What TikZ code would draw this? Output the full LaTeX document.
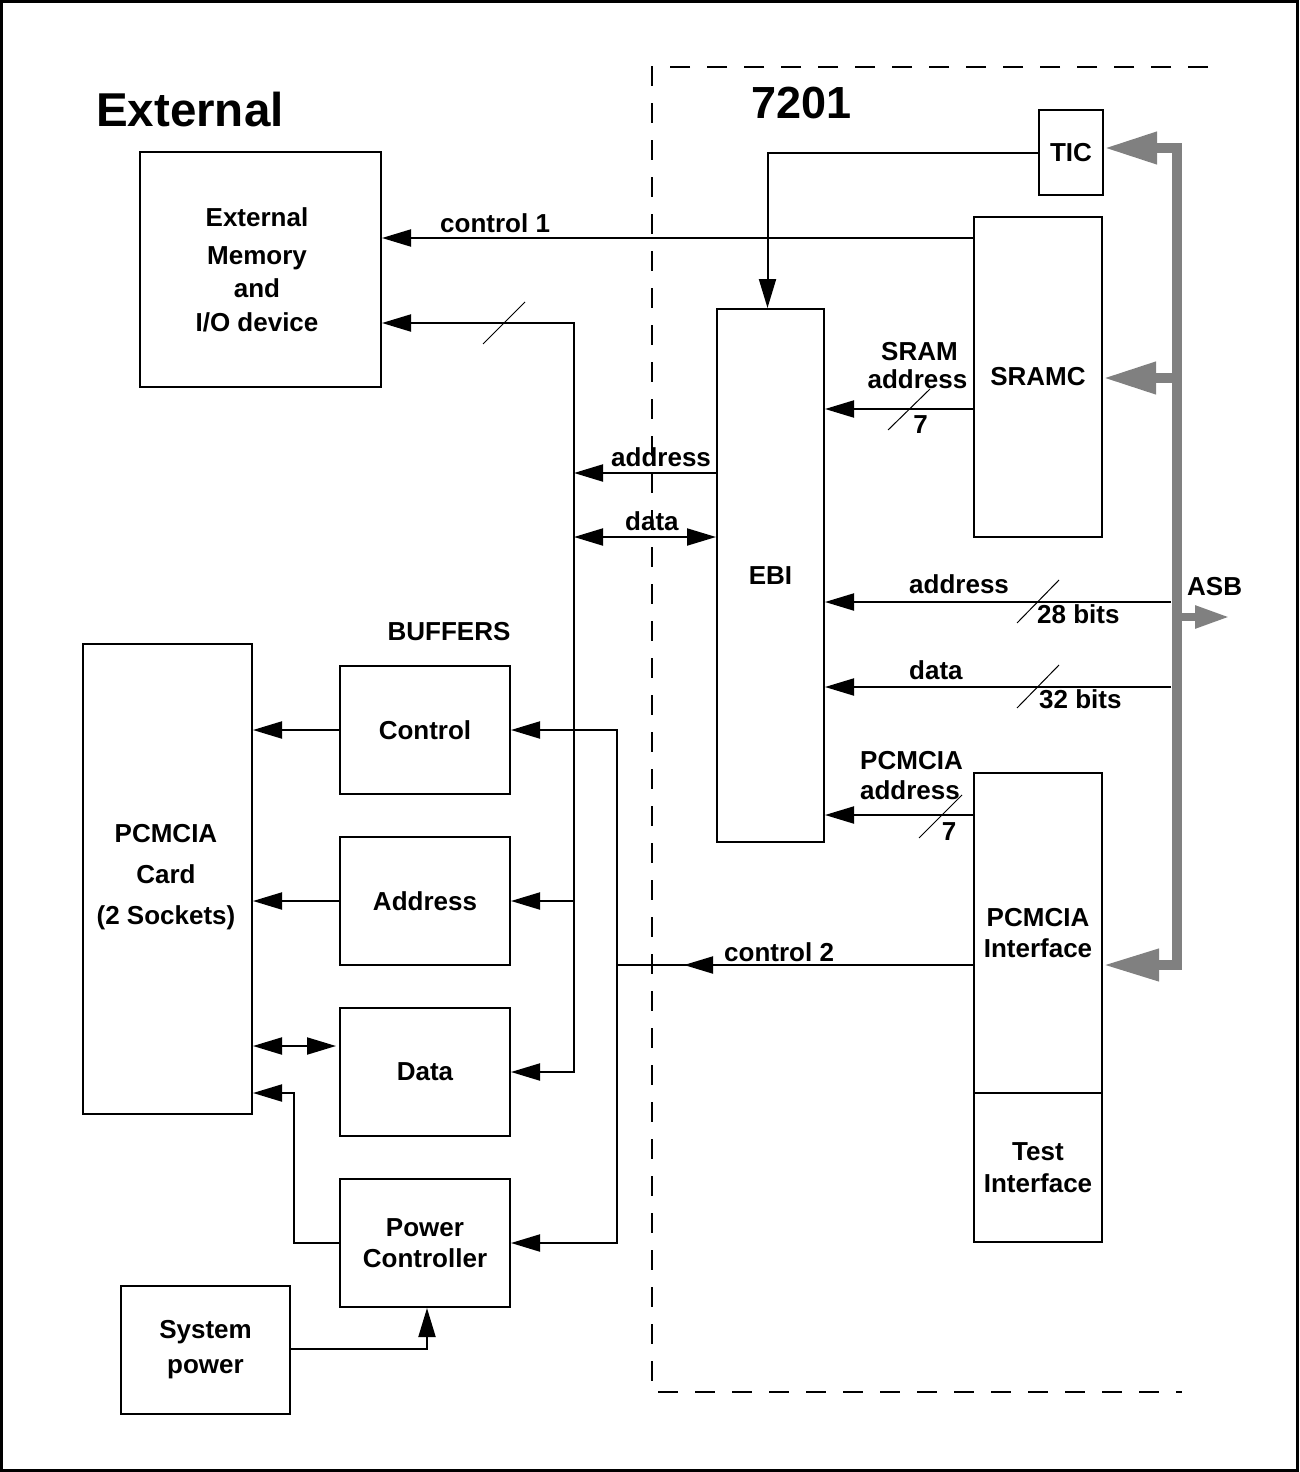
\documentclass[tikz,border=0pt]{standalone}
\usepackage{fontspec}
\setmainfont{Liberation Sans}
\usetikzlibrary{arrows.meta}
\newcommand{\mylbl}{\fontsize{26pt}{31pt}\selectfont\bfseries}
\begin{document}
\begin{tikzpicture}[x=1pt,y=-1pt,
  box/.style={draw, line width=2pt, rectangle, inner sep=0pt, align=center, font=\mylbl},
  lbl/.style={inner sep=0pt, font=\mylbl},
  conn/.style={line width=2pt},
  arr/.style={line width=2pt, -{Triangle[length=29pt,width=17pt]}},
  dbl/.style={line width=2pt, {Triangle[length=29pt,width=17pt]}-{Triangle[length=29pt,width=17pt]}},
  slash/.style={line width=1pt},
  bus/.style={draw=gray, line width=10pt, line join=miter}]
\useasboundingbox (0,0) rectangle (1299,1472);
% outer frame
\draw[line width=3pt] (1.5,1.5) rectangle (1297.5,1470.5);
% dashed 7201 region
\draw[line width=2pt, dash pattern=on 20pt off 17pt] (1208,67) -- (652,67) -- (652,1392) -- (1182,1392);
% titles
\node[inner sep=0pt, anchor=base west, font=\fontsize{47.5pt}{50pt}\selectfont\bfseries] (ttlext) at (96,126) {External};
\node[inner sep=0pt, anchor=base west, font=\fontsize{45pt}{50pt}\selectfont\bfseries] (ttlchip) at (751,118) {7201};
% boxes
\node[box, minimum width=241pt, minimum height=235pt] (ExtMem) at (260.5,269.5) {};
\node[lbl, align=center] (ExtMemTxt) at ([xshift=-3.5pt]ExtMem.center) {External\\[7pt]Memory\\[2pt]and\\[3pt]I/O device};
\node[box, minimum width=64pt, minimum height=85pt] (TIC) at (1071,152.5) {TIC};
\node[box, minimum width=128pt, minimum height=320pt] (SRAMC) at (1038,377) {SRAMC};
\node[box, minimum width=107pt, minimum height=533pt] (EBI) at (770.5,575.5) {EBI};
\node[box, minimum width=128pt, minimum height=320pt] (PCMI) at (1038,933) {PCMCIA\\Interface};
\node[box, minimum width=128pt, minimum height=149pt] (Test) at (1038,1167.5) {Test\\[1pt]Interface};
\node[box, minimum width=169pt, minimum height=470pt] (Card) at (167.5,879) {};
\node[lbl, align=center] (CardTxt) at ([xshift=-1.5pt,yshift=2pt]Card.center) {PCMCIA\\[10.5pt]Card\\[10pt](2 Sockets)};
\node[box, minimum width=170pt, minimum height=128pt] (CtrlBuf) at (425,730) {Control};
\node[box, minimum width=170pt, minimum height=128pt] (AddrBuf) at (425,901) {Address};
\node[box, minimum width=170pt, minimum height=128pt] (DataBuf) at (425,1072) {Data};
\node[box, minimum width=170pt, minimum height=128pt] (PowerBuf) at (425,1243) {Power\\Controller};
\node[box, minimum width=169pt, minimum height=128pt] (Sys) at (205.5,1350) {System\\[4pt]power};
\node[lbl, anchor=base] (buffers) at (449,640) {BUFFERS};
% coordinates
\coordinate (busTop) at (574,323);
\coordinate (busBot) at (574,1072);
\coordinate (ctlJ) at (617,965);
\coordinate (asbA) at (1171,602);
\coordinate (asbD) at (1171,687);
\coordinate (asbOut) at (1230,617);
% TIC -> EBI
\draw[arr] (TIC.west) -| ([xshift=-3pt]EBI.north);
% control 1
\draw[arr] (SRAMC.west |- 0,238) -- (ExtMem.east |- 0,238);
\node[lbl, anchor=base west] (lc1) at (440,232) {control 1};
% external address/data bus
\draw[dbl] (ExtMem.east |- busTop) -- (busTop) -- (busBot) -- (DataBuf.east);
\draw[slash] (483,344) -- (525,302);
\draw[arr] (busTop |- AddrBuf.east) -- (AddrBuf.east);
\draw[arr] (EBI.west |- 0,473) -- (busTop |- 0,473);
\node[lbl, anchor=base west] (lea) at (611,466) {address};
\draw[dbl] (busTop |- 0,537) -- (EBI.west |- 0,537);
\node[lbl, anchor=base west] (led) at (625,530) {data};
% control 2
\draw[conn] (PCMI.west |- ctlJ) -- (ctlJ);
\draw[arr] (PCMI.west |- ctlJ) -- (684,965);
\node[lbl, anchor=base west] (lc2) at (724,961) {control 2};
\draw[arr] (ctlJ) |- (CtrlBuf.east);
\draw[arr] (ctlJ) |- (PowerBuf.east);
% buffers to card
\draw[arr] (CtrlBuf.west) -- (Card.east |- CtrlBuf.west);
\draw[arr] (AddrBuf.west) -- (Card.east |- AddrBuf.west);
\draw[dbl] (Card.east |- 0,1046) -- ([xshift=-3pt]DataBuf.west |- 0,1046);
\draw[arr] (PowerBuf.west) -| (294,1093) -- (Card.east |- 0,1093);
\draw[arr] (Sys.east |- 0,1349) -| ([xshift=2pt]PowerBuf.south);
% SRAM address
\draw[arr] (SRAMC.west |- 0,409) -- (EBI.east |- 0,409);
\draw[slash] (888,430) -- (930,389);
\node[lbl, anchor=base] (lsa1) at (919.5,360) {SRAM};
\node[lbl, anchor=base] (lsa2) at (917.5,388) {address};
\node[lbl, anchor=base] (lsa3) at (920.5,433) {7};
% ASB address
\draw[arr] (asbA) -- (EBI.east |- asbA);
\draw[slash] (1017,623) -- (1059,580);
\node[lbl, anchor=base west] (laa) at (909,593) {address};
\node[lbl, anchor=base west] (laa2) at (1037,623) {28 bits};
% ASB data
\draw[arr] (asbD) -- (EBI.east |- asbD);
\draw[slash] (1017,708) -- (1059,665);
\node[lbl, anchor=base west] (lad) at (909,679) {data};
\node[lbl, anchor=base west] (lad2) at (1039,708) {32 bits};
% PCMCIA address
\draw[arr] (PCMI.west |- 0,815) -- (EBI.east |- 0,815);
\draw[slash] (919,838) -- (962,795);
\node[lbl, anchor=base] (lpa1) at (911.5,769) {PCMCIA};
\node[lbl, anchor=base] (lpa2) at (910,799) {address};
\node[lbl, anchor=base] (lpa3) at (949,840) {7};
% ASB gray bus
\draw[bus, {Triangle[length=53pt,width=30pt]}-{Triangle[length=56pt,width=30pt]}] (TIC.east |- 0,148) -- (1177,148) -- (1177,965) -- (PCMI.east |- 0,965);
\draw[bus, -{Triangle[length=53pt,width=30pt]}] (1177,378) -- (SRAMC.east |- 0,378);
\draw[bus, line width=8pt, -{Triangle[length=35pt,width=21pt]}] (1177,617) -- (asbOut);
\node[lbl, anchor=base west] (lasb) at (1187,595) {ASB};
\end{tikzpicture}
\end{document}
